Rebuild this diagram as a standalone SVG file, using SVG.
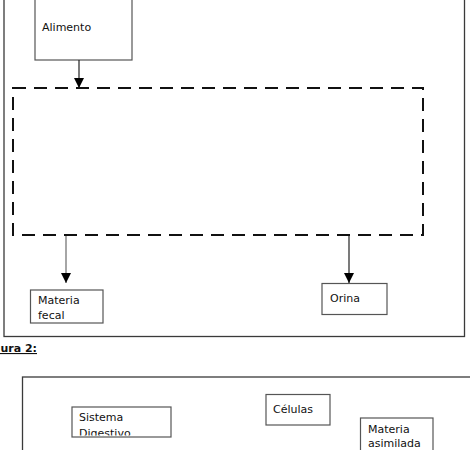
<svg xmlns="http://www.w3.org/2000/svg" width="470" height="450" viewBox="0 0 470 450">
<style>
  .frame{fill:none;stroke:#3a3a3a;stroke-width:1.3}
  .box{fill:#fff;stroke:#555;stroke-width:1.2}
  .lbl{font-family:"DejaVu Sans",sans-serif;font-size:11px;fill:#111}
  .dash{fill:none;stroke:#111;stroke-width:2;stroke-dasharray:13 8}
  .conn{stroke:#222;stroke-width:1.2;fill:none}
  .connG{stroke:#888;stroke-width:1.5;fill:none}
</style>
<defs>
  <marker id="ah" viewBox="0 0 10 10" refX="10" refY="5" markerWidth="10" markerHeight="10" markerUnits="userSpaceOnUse" orient="auto">
    <path d="M0,0 L10,5 L0,10 Z" fill="#000"/>
  </marker>
  <clipPath id="clipSD"><rect x="72" y="407" width="99" height="28.5"/></clipPath>
</defs>
<rect width="470" height="450" fill="#fff"/>
<g id="frame1"><rect class="frame" x="4" y="-10" width="460.5" height="346.5"/></g>
<g id="alimento">
  <rect class="box" x="35" y="-5" width="97" height="65"/>
  <text class="lbl" x="42" y="31">Alimento</text>
</g>
<g id="sistema-dashed">
  <rect class="dash" x="13" y="88" width="410" height="147"/>
</g>
<g id="materia-fecal">
  <rect class="box" x="30.5" y="290" width="72.5" height="33"/>
  <text class="lbl" x="38" y="304">Materia</text>
  <text class="lbl" x="38" y="319">fecal</text>
</g>
<g id="orina">
  <rect class="box" x="322" y="283.5" width="65" height="31"/>
  <text class="lbl" x="330" y="302">Orina</text>
</g>
<g id="connectors">
  <line class="conn" x1="79" y1="60" x2="79" y2="88" marker-end="url(#ah)"/>
  <line class="connG" x1="66" y1="236" x2="66" y2="283" marker-end="url(#ah)"/>
  <line class="conn" x1="349" y1="236" x2="349" y2="283" marker-end="url(#ah)"/>
</g>
<g id="caption">
  <text x="37" y="352" text-anchor="end" style="font-family:'DejaVu Sans',sans-serif;font-size:11px;font-weight:bold;text-decoration:underline;fill:#111">Figura 2:</text>
</g>
<g id="frame2"><rect class="frame" x="22.5" y="377" width="460" height="90"/></g>
<g id="sistema-digestivo">
  <rect class="box" x="72" y="407" width="99" height="30"/>
  <text class="lbl" x="79" y="421">Sistema</text>
  <text class="lbl" x="79" y="437" clip-path="url(#clipSD)">Digestivo</text>
</g>
<g id="celulas">
  <rect class="box" x="266" y="394.5" width="64" height="30.5"/>
  <text class="lbl" x="273" y="413">Células</text>
</g>
<g id="materia-asimilada">
  <rect class="box" x="360.5" y="418" width="72.5" height="45"/>
  <text class="lbl" x="368" y="433">Materia</text>
  <text class="lbl" x="368" y="447">asimilada</text>
</g>
</svg>
